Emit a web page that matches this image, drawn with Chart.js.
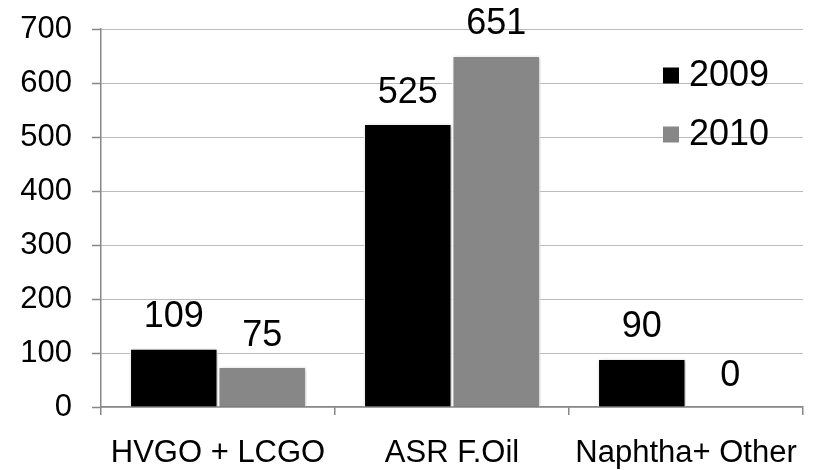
<!DOCTYPE html>
<html>
<head>
<meta charset="utf-8">
<script src="https://cdn.jsdelivr.net/npm/chart.js@4"></script>
<style>
  html, body { margin: 0; padding: 0; background: #fff; }
  #wrap { width: 813px; height: 470px; }
</style>
</head>
<body>
<div id="wrap"><canvas id="chart" width="813" height="470"></canvas></div>
<script>
const categories = ['HVGO + LCGO', 'ASR F.Oil', 'Naphtha+ Other'];
const values2009 = [109, 525, 90];
const values2010 = [75, 651, 0];
const seriesNames = ['2009', '2010'];
const yTicks = [0, 100, 200, 300, 400, 500, 600, 700];

const FONT = 'Arial, "Liberation Sans", sans-serif';
const colors = ['#000000', '#878787'];

// soft shadow under the bars
const barShadow = {
  id: 'barShadow',
  beforeDatasetsDraw(chart) {
    const ctx = chart.ctx;
    ctx.save();
    ctx.shadowColor = 'rgba(0,0,0,0.25)';
    ctx.shadowBlur = 4;
    ctx.shadowOffsetX = 1;
    ctx.shadowOffsetY = 1;
  },
  afterDatasetsDraw(chart) {
    chart.ctx.restore();
  }
};

// value labels above each bar
const valueLabels = {
  id: 'valueLabels',
  afterDatasetsDraw(chart) {
    const ctx = chart.ctx;
    ctx.save();
    ctx.font = '36px ' + FONT;
    ctx.fillStyle = '#000';
    ctx.textAlign = 'center';
    ctx.textBaseline = 'alphabetic';
    chart.data.datasets.forEach((ds, i) => {
      chart.getDatasetMeta(i).data.forEach((bar, j) => {
        ctx.fillText(String(ds.data[j]), bar.x, bar.y - 21);
      });
    });
    ctx.restore();
  }
};

// legend inside the plot, top right
const insideLegend = {
  id: 'insideLegend',
  afterDraw(chart) {
    const ctx = chart.ctx;
    const area = chart.chartArea;
    ctx.save();
    ctx.font = '36px ' + FONT;
    ctx.textBaseline = 'middle';
    ctx.textAlign = 'left';
    chart.data.datasets.forEach((ds, i) => {
      const cy = area.top + 46.5 + i * 59;
      const bx = area.right - 140;
      ctx.fillStyle = ds.backgroundColor;
      ctx.fillRect(bx, cy - 8, 16, 16);
      ctx.fillStyle = '#000';
      ctx.fillText(ds.label, bx + 26, cy + 1);
    });
    ctx.restore();
  }
};

new Chart(document.getElementById('chart'), {
  type: 'bar',
  data: {
    labels: categories,
    datasets: [
      { label: seriesNames[0], data: values2009, backgroundColor: colors[0], borderColor: '#fff', borderWidth: 1.5 },
      { label: seriesNames[1], data: values2010, backgroundColor: colors[1], borderColor: '#fff', borderWidth: 1.5 }
    ]
  },
  options: {
    responsive: false,
    animation: false,
    devicePixelRatio: 1,
    categoryPercentage: 0.756,
    barPercentage: 1,
    layout: { padding: { top: 29, right: 10, left: 0, bottom: 0 } },
    plugins: {
      legend: { display: false },
      tooltip: { enabled: false }
    },
    scales: {
      x: {
        afterFit(scale) {
          scale.height = 63;
          scale.paddingLeft = 0;
          scale.paddingRight = 0;
        },
        grid: {
          offset: true,
          drawOnChartArea: false,
          color: '#888',
          tickLength: 8,
          lineWidth: 1.5
        },
        border: { color: '#888', width: 1.5 },
        ticks: {
          color: '#000',
          font: { family: FONT, size: 31 },
          padding: 20,
          maxRotation: 0,
          autoSkip: false
        }
      },
      y: {
        min: 0,
        max: 700,
        afterFit(scale) {
          scale.width = 101;
          scale.paddingTop = 0;
          scale.paddingBottom = 0;
        },
        afterBuildTicks(scale) { scale.ticks = yTicks.map(v => ({ value: v })); },
        grid: {
          color: '#777',
          lineWidth: 1,
          tickLength: 9,
          tickColor: '#888',
          tickWidth: 1.5,
          tickBorderDash: [1, 0]
        },
        border: { color: '#888', width: 1.5, dash: [1, 1] },
        ticks: {
          color: '#000',
          font: { family: FONT, size: 31 },
          padding: 20
        }
      }
    }
  },
  plugins: [barShadow, valueLabels, insideLegend]
});
</script>
</body>
</html>
